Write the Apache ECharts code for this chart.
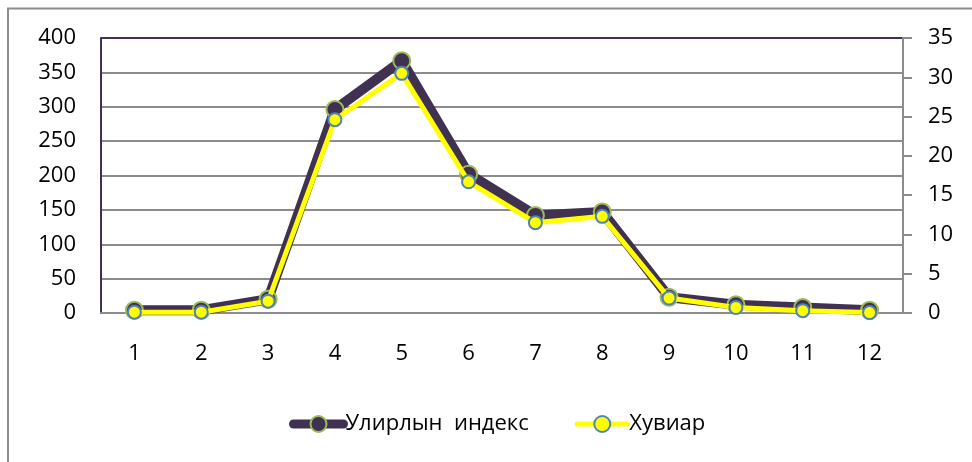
<!DOCTYPE html>
<html><head><meta charset="utf-8">
<script src="https://cdn.jsdelivr.net/npm/echarts@6/dist/echarts.min.js"></script>
<style>html,body{margin:0;padding:0;background:#fff}#c{width:972px;height:462px}</style>
</head><body><div id="c"></div>
<script>
const categories = ['1','2','3','4','5','6','7','8','9','10','11','12'];
const seasonalIndex = [4, 4, 20, 296, 367, 202, 142, 147, 23, 12, 8, 4];
const percent = [0.1, 0.1, 1.5, 24.6, 30.5, 16.7, 11.5, 12.3, 1.9, 0.7, 0.3, 0.05];
const leftTicks = {min: 0, max: 400, interval: 50};
const rightTicks = {min: 0, max: 35, interval: 5};
const names = ['Улирлын  индекс', 'Хувиар'];

const FONT = '"Open Sans", "Noto Sans", sans-serif';
const chart = echarts.init(document.getElementById('c'), null, {renderer: 'canvas'});
chart.setOption({
  animation: false,
  backgroundColor: '#fff',
  graphic: [{
    type: 'rect', shape: {x: 8, y: 8.5, width: 1000, height: 500},
    style: {fill: 'none', stroke: '#8c8c8c', lineWidth: 2}, z: -10
  }],
  grid: {left: 101, right: 69, top: 38, bottom: 149, containLabel: false},
  legend: {
    left: 284, top: 408, itemGap: 46, itemWidth: 50, itemHeight: 20,
    textStyle: {fontFamily: FONT, fontSize: 22, color: '#000', padding: [0, 0, 0, -3]},
    data: [
      {name: names[0], lineStyle: {width: 9, cap: 'round', color: '#403152'}},
      {name: names[1], lineStyle: {width: 5, cap: 'round', color: '#ffff00'}}
    ]
  },
  xAxis: {
    type: 'category', data: categories, boundaryGap: true,
    axisLine: {lineStyle: {color: '#8c8c8c', width: 2}},
    axisTick: {show: false},
    axisLabel: {fontFamily: FONT, fontSize: 22, color: '#000', margin: 30}
  },
  yAxis: [{
    type: 'value', min: leftTicks.min, max: leftTicks.max, interval: leftTicks.interval,
    axisLine: {show: true, lineStyle: {color: '#403152', width: 2}},
    axisTick: {show: false},
    axisLabel: {fontFamily: FONT, fontSize: 22, color: '#000', margin: 25},
    splitLine: {show: true, lineStyle: {color: ['#8c8c8c','#8c8c8c','#8c8c8c','#8c8c8c','#8c8c8c','#8c8c8c','#8c8c8c','#8c8c8c','#403152'], width: 2}}
  }, {
    type: 'value', position: 'right', min: rightTicks.min, max: rightTicks.max, interval: rightTicks.interval,
    axisLine: {show: true, lineStyle: {color: '#8c8c8c', width: 2}},
    axisTick: {show: true, length: 9, lineStyle: {color: '#8c8c8c', width: 2}},
    axisLabel: {fontFamily: FONT, fontSize: 22, color: '#000', margin: 25},
    splitLine: {show: false}
  }],
  series: [{
    name: names[0], type: 'line', yAxisIndex: 0, data: seasonalIndex, z: 2,
    symbol: 'circle', symbolSize: 17,
    lineStyle: {color: '#403152', width: 10},
    itemStyle: {color: '#403152', borderColor: '#9bbb59', borderWidth: 2}
  }, {
    name: names[1], type: 'line', yAxisIndex: 1, data: percent, z: 3,
    symbol: 'circle', symbolSize: 13,
    lineStyle: {color: '#ffff00', width: 5},
    itemStyle: {color: '#ffff00', borderColor: '#4f81bd', borderWidth: 2}
  }]
});
</script></body></html>
